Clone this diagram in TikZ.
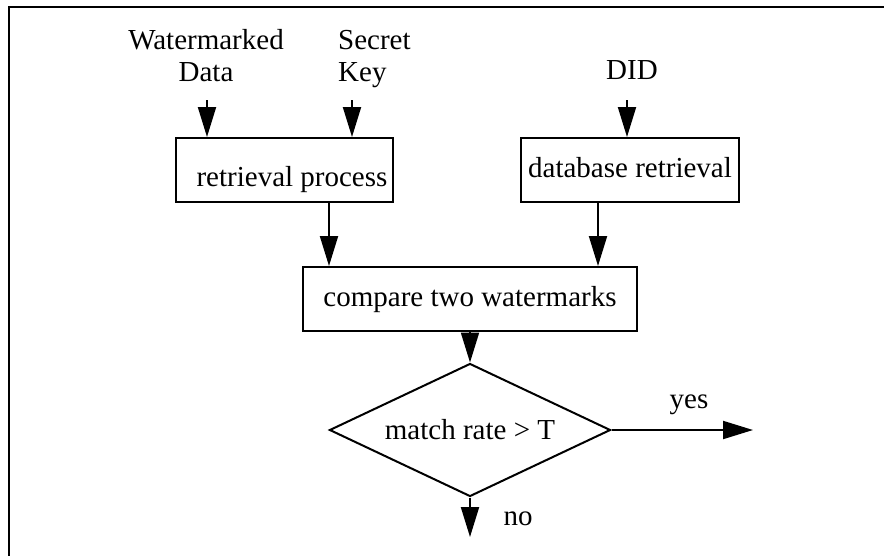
\documentclass[tikz,border=0pt]{standalone}
\usepackage{fontspec}
\setmainfont{Liberation Serif}
\usetikzlibrary{arrows.meta,shapes.geometric}
\begin{document}
\begin{tikzpicture}[x=1pt,y=-1pt,
  every node/.style={font=\fontsize{29}{32}\selectfont, inner sep=0pt},
  procbox/.style={draw, line width=2pt, minimum height=64pt, text height=20pt, text depth=6pt},
  arr/.style={line width=2pt, -{Triangle[length=30pt,width=18pt]}},
  lbl/.style={anchor=base}]
\useasboundingbox (0,0) rectangle (884,555);
\draw[line width=2.8pt] (9,560) -- (9,7) -- (890,7);
% inputs
\node[align=center, anchor=south] (wd) at (206,82) {Watermarked\\Data};
\node[align=left, anchor=south west] (sk) at (338,88.3) {Secret\\Key};
\node[lbl] (did) at (632,79) {DID};
% boxes
\node[procbox, minimum width=217pt] (rp) at (284.5,170) {\hspace{15pt}\raisebox{-9pt}{retrieval process}};
\node[procbox, minimum width=218pt] (db) at (630,170) {database retrieval};
\node[procbox, minimum width=334pt] (cmp) at (470,299) {compare two watermarks};
\node[draw, diamond, shape aspect=2.1, line width=2pt, minimum width=281pt, minimum height=133pt] (d) at (470,430) {match rate > T};
% free ends
\coordinate (wdin) at (207,100);
\coordinate (skin) at (352,100);
\coordinate (didin) at (627,100);
\coordinate (yesend) at (753,430);
\coordinate (noend) at (470,537);
% connectors
\draw[arr] (wdin) -- (wdin |- rp.north);
\draw[arr] (skin) -- (skin |- rp.north);
\draw[arr] (didin) -- (didin |- db.north);
\draw[arr] (rp.south -| 329,0) -- (cmp.north -| 329,0);
\draw[arr] (db.south -| 598,0) -- (cmp.north -| 598,0);
\draw[arr] (cmp.south) -- (d.north);
\draw[arr] (d.east) -- (yesend);
\draw[arr] (d.south) -- (noend);
% labels
\node[lbl] (yes) at (689,408) {yes};
\node[lbl] (no) at (518,525) {no};
\end{tikzpicture}
\end{document}
